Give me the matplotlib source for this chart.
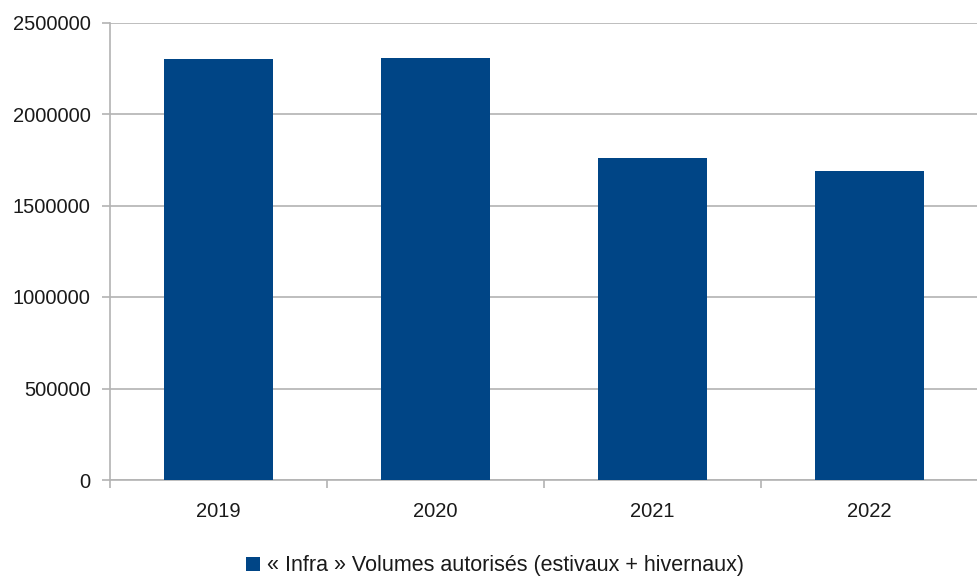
import matplotlib.pyplot as plt
from matplotlib.patches import Patch
from matplotlib.ticker import FixedLocator

# Data
years = ['2019', '2020', '2021', '2022']
volumes = [2300000, 2305000, 1758000, 1690000]
series_label = '« Infra » Volumes autorisés (estivaux + hivernaux)'
y_ticks = [0, 500000, 1000000, 1500000, 2000000, 2500000]

bar_color = '#004586'
grid_color = '#b3b3b3'
text_color = '#1a1a1a'

plt.rcParams['font.family'] = ['Liberation Sans', 'DejaVu Sans']

fig = plt.figure(figsize=(9.77, 5.79), dpi=100)
ax = fig.add_axes([110 / 977, 1 - 480 / 579, 868 / 977, (480 - 22.5) / 579])

x = list(range(len(years)))
ax.bar(x, volumes, width=0.5, color=bar_color, zorder=3)

ax.set_xlim(-0.5, len(years) - 0.5)
ax.set_ylim(0, 2500000)
ax.set_yticks(y_ticks)
ax.set_yticklabels([str(v) for v in y_ticks])
ax.set_xticks(x)
ax.set_xticklabels(years)
ax.xaxis.set_minor_locator(FixedLocator([i - 0.5 for i in range(len(years) + 1)]))

ax.tick_params(axis='y', length=6, width=1.2, color=grid_color, pad=8,
               labelsize=14.5, labelcolor=text_color)
ax.tick_params(axis='x', which='major', length=0, pad=16,
               labelsize=14.5, labelcolor=text_color)
ax.tick_params(axis='x', which='minor', length=6, width=1.2, color=grid_color)

ax.grid(axis='y', color=grid_color, linewidth=1.2, zorder=0)
for side in ['top', 'right']:
    ax.spines[side].set_visible(False)
for side in ['left', 'bottom']:
    ax.spines[side].set_color(grid_color)
    ax.spines[side].set_linewidth(1.2)

handle = Patch(facecolor=bar_color, edgecolor='none')
fig.legend([handle], [series_label], loc='center', bbox_to_anchor=(495 / 977, 1 - 566 / 579),
           frameon=False, fontsize=15.5, handlelength=0.65, handleheight=0.65,
           handletextpad=0.35, labelcolor=text_color)

fig.savefig('out.png', dpi=100)
